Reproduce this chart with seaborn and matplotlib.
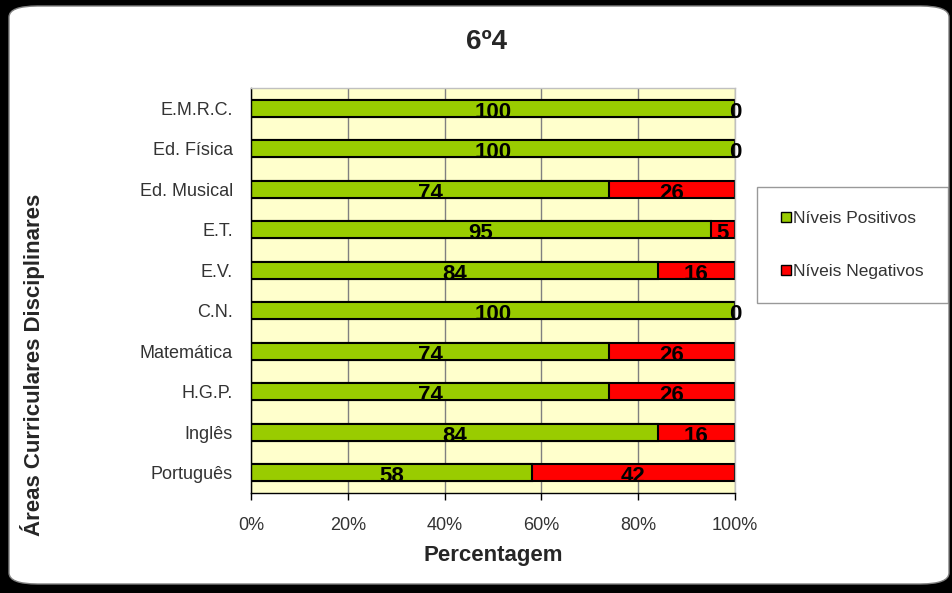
import matplotlib.pyplot as plt
import seaborn as sns
import pandas as pd
from matplotlib.patches import Patch, FancyBboxPatch

# data
disciplinas = ['E.M.R.C.', 'Ed. Física', 'Ed. Musical', 'E.T.', 'E.V.', 'C.N.',
               'Matemática', 'H.G.P.', 'Inglês', 'Português']
positivos = [100, 100, 74, 95, 84, 100, 74, 74, 84, 58]
negativos = [0, 0, 26, 5, 16, 0, 26, 26, 16, 42]
xticks = [0, 20, 40, 60, 80, 100]

VERDE = '#99CC00'
VERMELHO = '#FF0000'

sns.set_style('white')
plt.rcParams['font.family'] = ['Liberation Sans', 'DejaVu Sans']

df = pd.DataFrame({'disc': disciplinas, 'pos': positivos, 'neg': negativos})
df['total'] = df['pos'] + df['neg']

fig = plt.figure(figsize=(9.53, 5.93), dpi=100, facecolor='black')
W, H = 953, 593

# rounded white card behind everything
card = FancyBboxPatch((9 / W, 9 / H), (940 / W), (578 / H),
                      boxstyle='round,pad=0,rounding_size=0.03',
                      transform=fig.transFigure, facecolor='white',
                      edgecolor='#808080', linewidth=1, mutation_aspect=H / W,
                      zorder=-10)
fig.patches.append(card)

ax = fig.add_axes([251 / W, 1 - 493 / H, 484 / W, 405 / H])
ax.set_facecolor('#FFFFCC')

# stacked bars: full total in red, positive part in green on top
sns.barplot(data=df, y='disc', x='total', orient='h', color=VERMELHO,
            saturation=1, width=0.42, edgecolor='black', linewidth=1.5, ax=ax)
sns.barplot(data=df, y='disc', x='pos', orient='h', color=VERDE,
            saturation=1, width=0.42, edgecolor='black', linewidth=1.5, ax=ax)

for i, (p, n) in enumerate(zip(positivos, negativos)):
    ax.text(p / 2, i + 0.1, str(p), ha='center', va='center',
            fontsize=16, fontweight='bold', color='black', zorder=5)
    ax.text(p + n / 2, i + 0.1, str(n), ha='center', va='center',
            fontsize=16, fontweight='bold', color='black', zorder=5)

ax.set_xlim(0, 100)
ax.set_ylim(len(disciplinas) - 0.5, -0.5)
ax.set_xticks(xticks)
ax.set_xticklabels([f'{t}%' for t in xticks], fontsize=13, color='#333333')
ax.set_yticks(range(len(disciplinas)))
ax.set_yticklabels(disciplinas, fontsize=13, color='#333333')
ax.set_yticks([i + 0.5 for i in range(-1, len(disciplinas))], minor=True)
ax.tick_params(axis='y', which='major', length=0, pad=13)
ax.tick_params(axis='y', which='minor', length=5, width=1, color='black', direction='out')
ax.tick_params(axis='x', which='major', length=5, width=1, color='black',
               direction='out', bottom=True, pad=12)

ax.grid(axis='x', color='#808080', linewidth=1)
ax.set_axisbelow(True)
for side in ['top', 'right']:
    ax.spines[side].set_color('#c0c0c0')
    ax.spines[side].set_linewidth(1)
for side in ['left', 'bottom']:
    ax.spines[side].set_color('black')
    ax.spines[side].set_linewidth(1)

ax.set_xlabel('Percentagem', fontsize=16, fontweight='bold', labelpad=8)
ax.set_ylabel('Áreas Curriculares Disciplinares', fontsize=16, fontweight='bold')
ax.yaxis.set_label_coords(-0.425, 0.316)

fig.text(487 / W, 1 - 42 / H, '6º4', ha='center', va='center',
         fontsize=20, fontweight='bold')

handles = [Patch(facecolor=VERDE, edgecolor='black', label='Níveis Positivos'),
           Patch(facecolor=VERMELHO, edgecolor='black', label='Níveis Negativos')]
leg = fig.legend(handles=handles, loc='center left',
                 bbox_to_anchor=(757 / W, 1 - 245 / H), fontsize=12.5,
                 frameon=True, fancybox=False, edgecolor='#808080',
                 handlelength=0.55, handleheight=0.55, handletextpad=0.15,
                 labelspacing=2.2, borderpad=1.4, borderaxespad=0)
leg.get_frame().set_linewidth(1)
for t in leg.get_texts():
    t.set_color('#333333')

fig.savefig('out.png', dpi=100, facecolor='black')
